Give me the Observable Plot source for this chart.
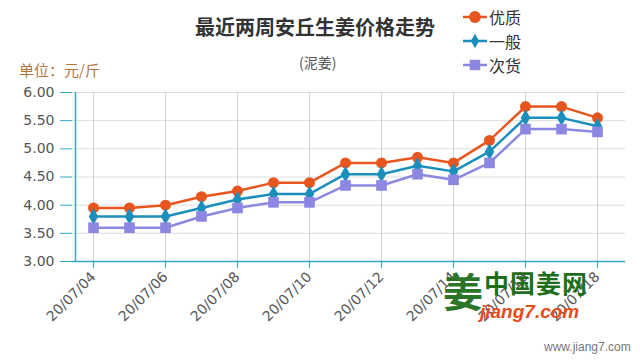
<!DOCTYPE html>
<html><head><meta charset="utf-8">
<script src="https://cdn.jsdelivr.net/npm/d3@7"></script>
<script src="https://cdn.jsdelivr.net/npm/@observablehq/plot@0.6"></script>
<style>
body{margin:0;background:#fff;font-family:"Noto Sans CJK SC","Open Sans",sans-serif;}
#wrap{position:relative;width:640px;height:360px;overflow:hidden;}
.abs{position:absolute;white-space:nowrap;line-height:1;}
</style></head>
<body><div id="wrap"></div>
<script>
const dates = ["20/07/04","20/07/05","20/07/06","20/07/07","20/07/08","20/07/09","20/07/10","20/07/11","20/07/12","20/07/13","20/07/14","20/07/15","20/07/16","20/07/17","20/07/18"];
const seriesNames = ["优质","一般","次货"];
const youzhi = [3.95,3.95,4.00,4.15,4.25,4.40,4.40,4.75,4.75,4.85,4.75,5.15,5.75,5.75,5.55];
const yiban  = [3.80,3.80,3.80,3.95,4.10,4.20,4.20,4.55,4.55,4.70,4.60,4.95,5.55,5.55,5.40];
const cihuo  = [3.60,3.60,3.60,3.80,3.95,4.05,4.05,4.35,4.35,4.55,4.45,4.75,5.35,5.35,5.30];
const yTicks = [3.0,3.5,4.0,4.5,5.0,5.5,6.0];
const labelDates = dates.filter((d,i)=>i%2===0);
const colors = ["#e8561f","#1b8fbb","#8c88e2"];
const symbols = ["circle","diamond","square"];
const radii = [5.5,5,6];

const values = [youzhi, yiban, cihuo];
const data = [];
seriesNames.forEach((s,k)=>values[k].forEach((v,i)=>data.push({date:dates[i], value:v, series:s})));

const axisColor = "#34a7c4";
const chart = Plot.plot({
  width:640, height:360,
  marginTop:92, marginBottom:99, marginLeft:72, marginRight:15,
  insetLeft:18, insetRight:25,
  style:{fontFamily:'"DejaVu Sans","Noto Sans CJK SC",sans-serif', background:"transparent"},
  x:{type:"point", domain:dates, padding:0},
  y:{domain:[3,6]},
  color:{domain:seriesNames, range:colors},
  symbol:{domain:seriesNames, range:symbols},
  marks:[
    Plot.ruleY(yTicks,{stroke:"#dcdcdc", strokeWidth:1}),
    Plot.ruleX(labelDates,{stroke:"#cfd3d8", strokeWidth:1}),
    Plot.axisY(yTicks,{tickFormat:d3.format(".2f"), tickSize:12, tickPadding:6, stroke:axisColor, fill:"#555", fontSize:14, label:null}),
    Plot.axisX(labelDates,{tickSize:7, tickPadding:6, tickRotate:-45, stroke:axisColor, fill:"#555", fontSize:14, label:null}),
    Plot.ruleX([dates[0]],{stroke:axisColor, strokeWidth:1.5, dx:-18}),
    Plot.ruleY([3],{stroke:axisColor, strokeWidth:1.5}),
    Plot.line(data,{x:"date", y:"value", stroke:"series", z:"series", strokeWidth:2.5}),
    ...seriesNames.map((s,k)=>Plot.dot(data.filter(d=>d.series===s),{x:"date", y:"value", fill:colors[k], symbol:symbols[k], r:radii[k], stroke:"none"}))
  ]
});
const wrap = document.getElementById("wrap");
chart.style.position="absolute"; chart.style.left="0"; chart.style.top="0";
wrap.appendChild(chart);

function addText(txt, css){const d=document.createElement("div");d.className="abs";d.textContent=txt;Object.assign(d.style,css);wrap.appendChild(d);return d;}
addText("最近两周安丘生姜价格走势",{left:"195px",top:"17px",fontSize:"20px",fontWeight:"bold",color:"#333"});
addText("(泥姜)",{left:"299px",top:"55px",fontSize:"14px",color:"#555"});
addText("单位：元/斤",{left:"19px",top:"62px",fontSize:"15px",color:"#b0763e"});

// legend
const legendY=[17,41,65];
seriesNames.forEach((s,k)=>{
  const svgNS="http://www.w3.org/2000/svg";
  const sv=document.createElementNS(svgNS,"svg");
  sv.setAttribute("width","26");sv.setAttribute("height","16");
  sv.style.position="absolute";sv.style.left="462px";sv.style.top=(legendY[k]-8)+"px";
  const ln=document.createElementNS(svgNS,"line");
  ln.setAttribute("x1","1");ln.setAttribute("x2","25");ln.setAttribute("y1","8");ln.setAttribute("y2","8");
  ln.setAttribute("stroke",colors[k]);ln.setAttribute("stroke-width","2.5");sv.appendChild(ln);
  const sym=k===0?d3.symbol(d3.symbolCircle,110)():k===1?d3.symbol(d3.symbolDiamond,60)():d3.symbol(d3.symbolSquare,110)();
  const p=document.createElementNS(svgNS,"path");p.setAttribute("d",sym);p.setAttribute("transform","translate(13,8)");p.setAttribute("fill",colors[k]);
  sv.appendChild(p);wrap.appendChild(sv);
  addText(s,{left:"489px",top:(legendY[k]-8)+"px",fontSize:"16px",color:"#333"});
});

// watermark
addText("姜",{left:"443px",top:"270px",fontSize:"40px",fontWeight:"bold",color:"#1f6e1c",opacity:"0.95"});
addText("中国姜网",{left:"484px",top:"270px",fontSize:"25px",fontWeight:"bold",color:"#1f6e1c",letterSpacing:"1px"});
addText("jiang7.com",{left:"480px",top:"302px",fontSize:"19px",fontWeight:"bold",fontStyle:"italic",color:"#e84a1a",fontFamily:"Arial,'Liberation Sans',sans-serif"});
addText("www.jiang7.com",{left:"544px",top:"341px",fontSize:"12px",color:"#777",fontFamily:"Arial,'Liberation Sans',sans-serif"});
</script></body></html>
